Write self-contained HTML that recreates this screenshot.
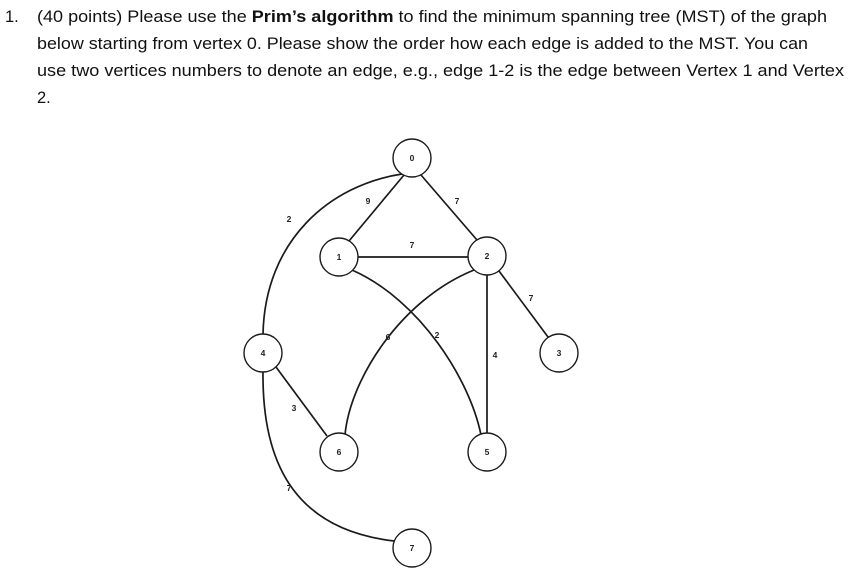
<!DOCTYPE html>
<html><head><meta charset="utf-8"><style>
html,body{margin:0;padding:0;background:#fff;}
svg{display:block;}
</style></head><body>
<svg width="852" height="576" viewBox="0 0 852 576" xmlns="http://www.w3.org/2000/svg">
<g font-family="Liberation Sans, sans-serif" font-size="16.5" fill="#111">
<text x="5" y="22">1.</text>
<text x="37" y="22" textLength="790" lengthAdjust="spacingAndGlyphs">(40 points) Please use the <tspan font-weight="bold">Prim’s algorithm</tspan> to find the minimum spanning tree (MST) of the graph</text>
<text x="37" y="49" textLength="771" lengthAdjust="spacingAndGlyphs">below starting from vertex 0. Please show the order how each edge is added to the MST. You can</text>
<text x="37" y="76" textLength="807" lengthAdjust="spacingAndGlyphs">use two vertices numbers to denote an edge, e.g., edge 1-2 is the edge between Vertex 1 and Vertex</text>
<text x="37" y="103">2.</text>
</g>
<g stroke="#1a1a1a" stroke-width="1.7" fill="none">
<line x1="404" y1="175" x2="349" y2="241"/>
<line x1="421" y1="175" x2="477" y2="240"/>
<line x1="358" y1="257" x2="468" y2="257"/>
<line x1="487" y1="275" x2="487" y2="433"/>
<line x1="499" y1="271" x2="548" y2="337"/>
<line x1="276" y1="367" x2="327" y2="436"/>
<path d="M402,174 C330,185 265,240 263,334"/>
<path d="M263,372 C262,470 300,530 394,541"/>
<path d="M352,270 C420,300 470,380 481,435"/>
<path d="M474,270 C400,300 350,380 345,435"/>
</g>
<g stroke="#1a1a1a" stroke-width="1.4" fill="#fff">
<circle cx="412" cy="158" r="19"/>
<circle cx="339" cy="257" r="19"/>
<circle cx="487" cy="256" r="19"/>
<circle cx="263" cy="353" r="19"/>
<circle cx="559" cy="353" r="19"/>
<circle cx="339" cy="452" r="19"/>
<circle cx="487" cy="452" r="19"/>
<circle cx="412" cy="548" r="19"/>
</g>
<g font-family="Liberation Sans, sans-serif" font-size="8.5" font-weight="bold" fill="#222" text-anchor="middle">
<text x="412" y="161">0</text>
<text x="339" y="260">1</text>
<text x="487" y="259">2</text>
<text x="263" y="356">4</text>
<text x="559" y="356">3</text>
<text x="339" y="455">6</text>
<text x="487" y="455">5</text>
<text x="412" y="551">7</text>
<text x="289" y="222">2</text>
<text x="368" y="204">9</text>
<text x="457" y="204">7</text>
<text x="412" y="248">7</text>
<text x="531" y="301">7</text>
<text x="388" y="340">6</text>
<text x="437" y="338">2</text>
<text x="495" y="358">4</text>
<text x="294" y="411">3</text>
<text x="289" y="491">7</text>
</g>
</svg>
</body></html>
